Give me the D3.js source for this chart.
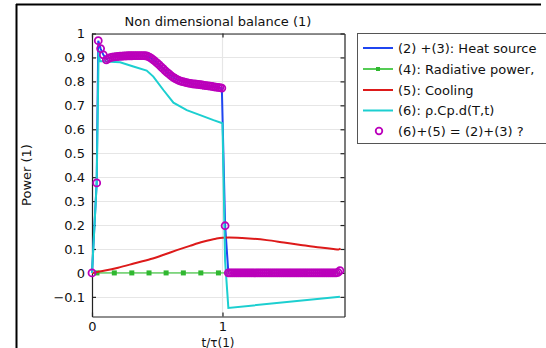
<!DOCTYPE html>
<html><head><meta charset="utf-8">
<script src="https://cdn.jsdelivr.net/npm/d3@7"></script>
<style>
html,body{margin:0;padding:0;background:#fff;}
svg{display:block;font-family:"DejaVu Sans",sans-serif;}
</style></head>
<body><svg id="c" width="546" height="348"></svg>
<script>
// ---- data ----
const titleText = "Non dimensional balance (1)";
const xLabel = "t/τ(1)";
const yLabel = "Power (1)";
const xTicks = [0, 1];
const yTicks = [-0.1, 0, 0.1, 0.2, 0.3, 0.4, 0.5, 0.6, 0.7, 0.8, 0.9, 1];
const legendLabels = ["(2) +(3): Heat source", "(4): Radiative power,", "(5): Cooling", "(6): ρ.Cp.d(T,t)", "(6)+(5) = (2)+(3) ?"];

// (2)+(3) heat source
const heatT = [0, 0.036, 0.048, 0.066, 0.087, 0.11, 0.15, 0.3, 0.4, 0.44, 0.5, 0.55, 0.6, 0.65, 0.7, 0.8, 0.9, 0.995, 1.02, 1.045, 1.9];
const heatV = [0, 0.38, 0.97, 0.937, 0.911, 0.893, 0.901, 0.907, 0.908, 0.901, 0.876, 0.851, 0.826, 0.808, 0.798, 0.788, 0.780, 0.772, 0.2, 0, 0];

// (4) radiative power
const radT = [0, 1.9];
const radV = [0, 0];
const radMarkT = [0.038, 0.171, 0.305, 0.437, 0.568, 0.70, 0.834, 0.969, 1.10, 1.235, 1.37, 1.50, 1.635, 1.77];

// (5) cooling
const coolT = [0, 0.1, 0.2, 0.32, 0.45, 0.55, 0.65, 0.75, 0.85, 0.95, 1.0, 1.05, 1.15, 1.34, 1.47, 1.6, 1.75, 1.85, 1.89, 1.905];
const coolV = [0, 0.01, 0.022, 0.039, 0.058, 0.076, 0.095, 0.113, 0.13, 0.143, 0.147, 0.148, 0.146, 0.137, 0.127, 0.117, 0.106, 0.1, 0.098, 0.102];

// (6) rho.Cp.dT/dt
const storT = [0, 0.036, 0.051, 0.061, 0.1, 0.14, 0.215, 0.317, 0.419, 0.47, 0.547, 0.624, 0.726, 0.829, 0.931, 1.0, 1.02, 1.045, 1.9];
const storV = [0, 0.375, 0.93, 0.885, 0.884, 0.882, 0.88, 0.862, 0.845, 0.82, 0.764, 0.711, 0.68, 0.659, 0.638, 0.625, 0.05, -0.146, -0.1];

// (6)+(5) balance check (markers)
const balT = [0, 0.036, 0.048, 0.066, 0.087, 0.11,
  0.125, 0.14, 0.155, 0.17, 0.185, 0.2, 0.215, 0.23, 0.245, 0.26, 0.275, 0.29, 0.305, 0.32, 0.335, 0.35, 0.365, 0.38, 0.395, 0.41,
  0.425, 0.44, 0.455, 0.47, 0.485, 0.5, 0.515, 0.53, 0.545, 0.56, 0.575, 0.59, 0.605, 0.62, 0.635, 0.65, 0.665, 0.68, 0.695, 0.71,
  0.725, 0.74, 0.755, 0.77, 0.785, 0.8, 0.815, 0.83, 0.845, 0.86, 0.875, 0.89, 0.905, 0.92, 0.935, 0.95, 0.965, 0.98, 0.995, 1.02,
  1.045, 1.06, 1.075, 1.09, 1.105, 1.12, 1.135, 1.15, 1.165, 1.18, 1.195, 1.21, 1.225, 1.24, 1.255, 1.27, 1.285, 1.3, 1.315, 1.33,
  1.345, 1.36, 1.375, 1.39, 1.405, 1.42, 1.435, 1.45, 1.465, 1.48, 1.495, 1.51, 1.525, 1.54, 1.555, 1.57, 1.585, 1.6, 1.615, 1.63,
  1.645, 1.66, 1.675, 1.69, 1.705, 1.72, 1.735, 1.75, 1.765, 1.78, 1.795, 1.81, 1.825, 1.84, 1.855, 1.87, 1.885, 1.9];
const balV = [0, 0.376, 0.97, 0.937, 0.911, 0.89,
  0.895, 0.899, 0.901, 0.902, 0.903, 0.904, 0.905, 0.905, 0.906, 0.906, 0.907, 0.907, 0.907, 0.908, 0.908, 0.908, 0.908, 0.908, 0.908, 0.907,
  0.905, 0.901, 0.896, 0.890, 0.883, 0.876, 0.869, 0.861, 0.853, 0.845, 0.838, 0.831, 0.824, 0.818, 0.813, 0.808, 0.804, 0.801, 0.799, 0.797,
  0.795, 0.793, 0.792, 0.790, 0.789, 0.788, 0.787, 0.786, 0.785, 0.783, 0.782, 0.781, 0.780, 0.779, 0.777, 0.776, 0.775, 0.774, 0.772, 0.197,
  0, 0, 0, 0, 0, 0, 0, 0, 0, 0, 0, 0, 0, 0, 0, 0, 0, 0, 0, 0,
  0, 0, 0, 0, 0, 0, 0, 0, 0, 0, 0, 0, 0, 0, 0, 0, 0, 0, 0, 0,
  0, 0, 0, 0, 0, 0, 0, 0, 0, 0, 0, 0, 0, 0, 0, 0, 0.002, 0.01];

// ---- drawing ----
const colors = {heat: "#1f45f0", rad: "#7cd67c", radMark: "#30b830", cool: "#dd1a1a", stor: "#1ccfd0", bal: "#bb00bb"};
const svg = d3.select("#c");
const x = d3.scaleLinear().domain([0, 1.935]).range([92, 344.5]);
const y = d3.scaleLinear().domain([-0.182, 1.0]).range([316.5, 33.5]);
const fs = "13px";

// outer frame (cropped)
svg.append("line").attr("x1", 16.5).attr("x2", 16.5).attr("y1", 4).attr("y2", 348).attr("stroke", "#000").attr("stroke-width", 2);
svg.append("line").attr("x1", 16).attr("x2", 541).attr("y1", 4.5).attr("y2", 4.5).attr("stroke", "#000").attr("stroke-width", 2);

// grid
const g = svg.append("g");
g.selectAll(".hg").data(yTicks).join("line")
  .attr("x1", x(0)).attr("x2", x(1.935)).attr("y1", d => Math.round(y(d)) + 0.5).attr("y2", d => Math.round(y(d)) + 0.5)
  .attr("stroke", "#e6e6e6").attr("stroke-width", 1.2);
g.selectAll(".vg").data(xTicks).join("line")
  .attr("y1", y(-0.182)).attr("y2", y(1)).attr("x1", d => Math.round(x(d)) + 0.5).attr("x2", d => Math.round(x(d)) + 0.5)
  .attr("stroke", "#e6e6e6").attr("stroke-width", 1.2);

// axes (ticks inward on all sides)
const axL = d3.axisLeft(y).tickValues(yTicks).tickSizeInner(-4).tickSizeOuter(0).tickPadding(7).tickFormat(d => d3.format("")(+d.toFixed(1)));
const axR = d3.axisRight(y).tickValues(yTicks).tickSizeInner(-4).tickSizeOuter(0).tickFormat("");
const axB = d3.axisBottom(x).tickValues(xTicks).tickSizeInner(-4).tickSizeOuter(0).tickPadding(5).tickFormat(d3.format("d"));
const axT = d3.axisTop(x).tickValues(xTicks).tickSizeInner(-4).tickSizeOuter(0).tickFormat("");
function style(sel) {
  sel.selectAll("path").attr("stroke", "#222").attr("stroke-width", 1.2);
  sel.selectAll("line").attr("stroke", "#222").attr("stroke-width", 1.2);
  sel.selectAll("text").attr("font-size", fs).attr("font-family", "DejaVu Sans").attr("fill", "#111");
}
svg.append("g").attr("transform", `translate(${x(0)},0)`).call(axL).call(style);
svg.append("g").attr("transform", `translate(${x(1.935)},0)`).call(axR).call(style);
svg.append("g").attr("transform", `translate(0,${y(-0.182)})`).call(axB).call(style);
svg.append("g").attr("transform", `translate(0,${y(1)})`).call(axT).call(style);

// series
const line = d3.line().x(d => x(d[0])).y(d => y(d[1]));
const zip = (a, b) => a.map((t, i) => [t, b[i]]);
const plot = svg.append("g");
plot.append("path").datum(zip(heatT, heatV)).attr("d", line).attr("fill", "none").attr("stroke", colors.heat).attr("stroke-width", 2);
plot.append("path").datum(zip(radT, radV)).attr("d", line).attr("fill", "none").attr("stroke", colors.rad).attr("stroke-width", 1.8);
plot.selectAll(".rm").data(radMarkT).join("rect")
  .attr("x", d => x(d) - 2.5).attr("y", y(0) - 2.5).attr("width", 5).attr("height", 5).attr("fill", colors.radMark);
const lineC = d3.line().x(d => x(d[0])).y(d => y(d[1])).curve(d3.curveMonotoneX);
plot.append("path").datum(zip(coolT, coolV)).attr("d", lineC).attr("fill", "none").attr("stroke", colors.cool).attr("stroke-width", 2);
plot.append("path").datum(zip(storT, storV)).attr("d", line).attr("fill", "none").attr("stroke", colors.stor).attr("stroke-width", 2);
plot.selectAll(".bm").data(zip(balT, balV)).join("circle")
  .attr("cx", d => x(d[0])).attr("cy", d => y(d[1])).attr("r", 3.5)
  .attr("fill", "none").attr("stroke", colors.bal).attr("stroke-width", 1.8);

// title & labels
svg.append("text").attr("x", 218).attr("y", 26).attr("text-anchor", "middle").attr("font-size", fs).attr("fill", "#111").text(titleText);
svg.append("text").attr("x", 218).attr("y", 346.5).attr("text-anchor", "middle").attr("font-size", "12px").attr("fill", "#111").text(xLabel);
svg.append("text").attr("transform", "translate(31,175) rotate(-90)").attr("text-anchor", "middle").attr("font-size", fs).attr("fill", "#111").text(yLabel);

// legend
const lg = svg.append("g");
lg.append("rect").attr("x", 357.5).attr("y", 33.5).attr("width", 200).attr("height", 110).attr("fill", "#fff").attr("stroke", "#555").attr("stroke-width", 1);
const rowY = [48, 69, 90, 110.5, 131];
const legColors = [colors.heat, "#55cc55", colors.cool, colors.stor];
legColors.forEach((c, i) => {
  lg.append("line").attr("x1", 363).attr("x2", 393).attr("y1", rowY[i]).attr("y2", rowY[i]).attr("stroke", c).attr("stroke-width", 2);
});
lg.append("rect").attr("x", 376).attr("y", rowY[1] - 2).attr("width", 4).attr("height", 4).attr("fill", colors.radMark);
lg.append("circle").attr("cx", 379).attr("cy", rowY[4]).attr("r", 3.3).attr("fill", "none").attr("stroke", colors.bal).attr("stroke-width", 1.8);
lg.selectAll(".lt").data(legendLabels).join("text")
  .attr("x", 398).attr("y", (d, i) => rowY[i] + 4.5).attr("font-size", fs).attr("fill", "#111").text(d => d);
</script></body></html>
